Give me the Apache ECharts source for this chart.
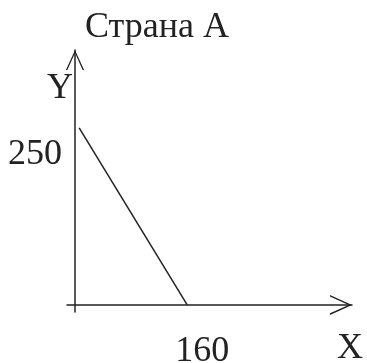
<!DOCTYPE html>
<html>
<head>
    <meta charset="UTF-8">
    <script type="text/javascript" src="https://cdn.jsdelivr.net/npm/echarts@6/dist/echarts.min.js"></script>
    <style>
        body { margin: 0; background: #fff; }
    </style>
</head>
<body>
    <div style="height: 363px;width: 367px" id="myDiv"></div>
    <script type="text/javascript">
        // production possibility line for country A
        var linePoints = [[0, 250], [160, 0]];
        var xTicks = [160];
        var yTicks = [250];
        var titleText = 'Страна А';
        var xName = 'X';
        var yName = 'Y';

        var ink = '#222';
        var serif = '"Liberation Serif", "DejaVu Serif", serif';
        var openArrow = 'path://M0,22 L10,0 L20,22 L18.4,22 L10,3.4 L1.6,22 Z';

        var chart = echarts.init(document.getElementById("myDiv"));
        var option = {
            backgroundColor: '#fff',
            animation: false,
            title: {
                text: titleText,
                left: 80,
                top: 5,
                textStyle: {
                    fontFamily: serif,
                    fontSize: 36,
                    fontWeight: 'normal',
                    color: ink
                }
            },
            grid: {
                left: 67,
                right: 15,
                top: 50,
                bottom: 51,
                outerBoundsMode: 'none',
                containLabel: false
            },
            xAxis: {
                type: 'value',
                min: -18,
                max: 404,
                splitLine: {show: false},
                axisTick: {show: false},
                axisLine: {
                    onZero: true,
                    symbol: ['none', openArrow],
                    symbolSize: [22, 22],
                    symbolOffset: [0, -11],
                    lineStyle: {color: ink, width: 1.5}
                },
                axisLabel: {
                    customValues: xTicks,
                    margin: 22,
                    padding: [0, 0, 0, 30],
                    fontFamily: serif,
                    fontSize: 36,
                    color: ink
                }
            },
            yAxis: {
                type: 'value',
                min: -10,
                max: 360,
                offset: -8,
                splitLine: {show: false},
                axisTick: {show: false},
                axisLine: {
                    onZero: false,
                    symbol: ['none', openArrow],
                    symbolSize: [20, 20],
                    symbolOffset: [0, -10],
                    lineStyle: {color: ink, width: 1.5}
                },
                axisLabel: {
                    customValues: yTicks,
                    margin: 13,
                    verticalAlign: 'top',
                    padding: [9, 0, 0, 0],
                    fontFamily: serif,
                    fontSize: 36,
                    color: ink
                }
            },
            graphic: [
                {
                    type: 'text',
                    left: 47,
                    top: 71,
                    style: {text: yName, font: '36px ' + serif, fill: ink}
                },
                {
                    type: 'text',
                    left: 337,
                    top: 331,
                    style: {text: xName, font: '36px ' + serif, fill: ink}
                }
            ],
            series: [
                {
                    type: 'line',
                    data: linePoints,
                    symbol: 'none',
                    lineStyle: {color: ink, width: 1.5}
                }
            ]
        };
        chart.setOption(option);
    </script>
</body>
</html>
